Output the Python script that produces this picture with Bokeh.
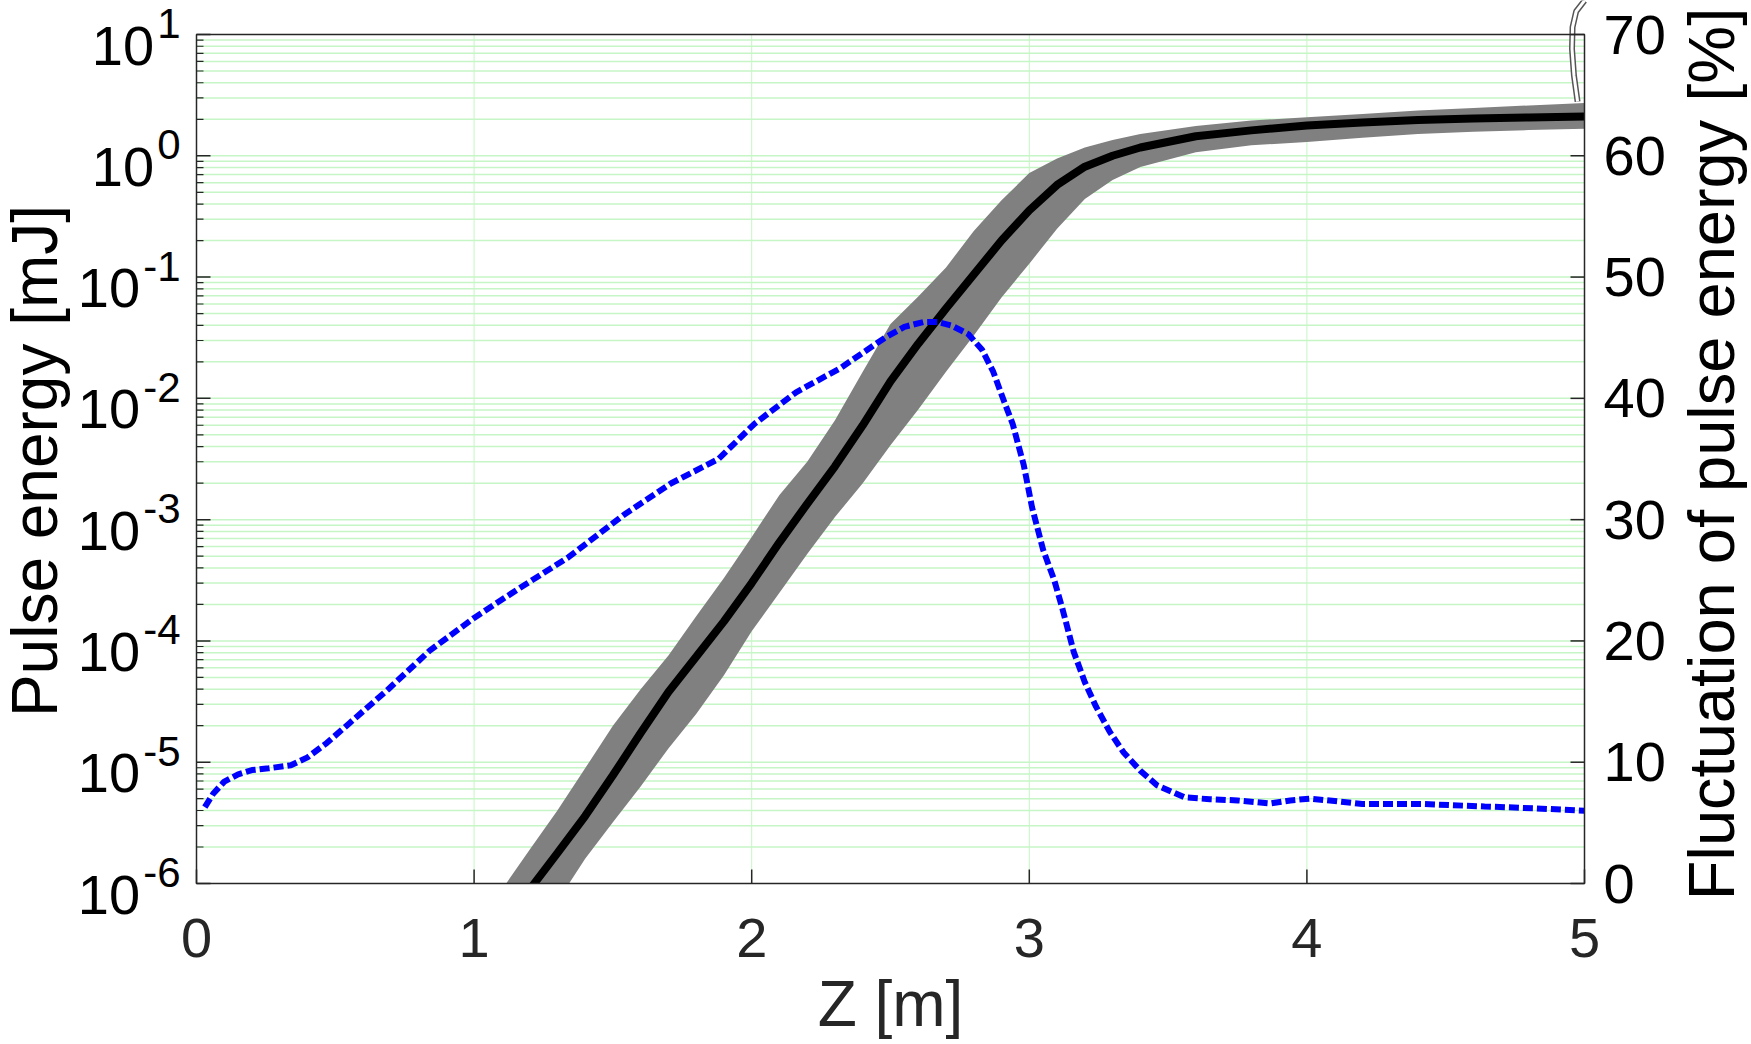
import math
from bokeh.plotting import figure
from bokeh.models import Range1d, LinearScale
from bokeh.core.properties import value
from bokeh.embed import file_html
from bokeh.resources import INLINE

# ---------------- data ----------------
z_band = [1.1, 1.2, 1.3, 1.4, 1.5, 1.6, 1.7, 1.8, 1.9, 2.0, 2.1, 2.2, 2.3, 2.4,
          2.5, 2.6, 2.7, 2.8, 2.9, 3.0, 3.1, 3.2, 3.3, 3.4, 3.6, 3.8, 4.0, 4.2,
          4.4, 4.6, 4.8, 5.0]
energy_mean = [4.5e-7, 8.9e-7, 1.78e-6, 3.6e-6, 7.8e-6, 1.74e-5, 3.8e-5, 7.4e-5,
               1.45e-4, 3.0e-4, 6.5e-4, 1.35e-3, 2.75e-3, 6.0e-3, 0.0138, 0.0282,
               0.055, 0.105, 0.200, 0.355, 0.575, 0.813, 1.0, 1.17, 1.45, 1.62,
               1.78, 1.88, 1.97, 2.03, 2.07, 2.11]
energy_upper = [8.9e-7, 1.9e-6, 4.0e-6, 8.9e-6, 2.0e-5, 4.0e-5, 7.6e-5, 1.6e-4,
                3.3e-4, 7.2e-4, 1.6e-3, 3.0e-3, 6.6e-3, 0.0166, 0.041, 0.069,
                0.12, 0.24, 0.43, 0.72, 0.95, 1.17, 1.35, 1.51, 1.76, 1.95,
                2.08, 2.21, 2.36, 2.48, 2.60, 2.72]
energy_lower = [1.6e-7, 3.2e-7, 7.1e-7, 1.6e-6, 3.2e-6, 6.3e-6, 1.3e-5, 2.5e-5,
                5.2e-5, 1.2e-4, 2.5e-4, 5.2e-4, 1.05e-3, 2.0e-3, 4.1e-3, 8.1e-3,
                0.0166, 0.033, 0.068, 0.129, 0.25, 0.44, 0.63, 0.81, 1.07, 1.22,
                1.30, 1.41, 1.51, 1.58, 1.63, 1.67]
# one stray trace leaving the top of the plot near Z = 5
z_stray = [4.975, 4.962, 4.955, 4.957, 4.970, 5.0]
energy_stray = [2.8, 4.6, 7.6, 11.5, 15.5, 19.0]

z_fluct = [0.03, 0.06, 0.10, 0.15, 0.20, 0.26, 0.34, 0.40, 0.47, 0.55, 0.69, 0.84,
           1.00, 1.16, 1.34, 1.54, 1.71, 1.88, 2.01, 2.16, 2.32, 2.48, 2.55, 2.62,
           2.67, 2.72, 2.78, 2.83, 2.87, 2.91, 2.94, 2.98, 3.01, 3.05, 3.09, 3.12,
           3.16, 3.20, 3.24, 3.29, 3.34, 3.40, 3.46, 3.52, 3.56, 3.65, 3.75, 3.87,
           3.94, 4.01, 4.10, 4.20, 4.42, 4.64, 4.82, 5.00]
fluct = [6.3, 7.4, 8.4, 9.0, 9.35, 9.5, 9.75, 10.4, 11.6, 13.2, 16.0, 19.2,
         21.9, 24.3, 26.9, 30.4, 33.0, 35.0, 37.9, 40.5, 42.5, 45.0, 45.9, 46.3,
         46.3, 46.0, 45.3, 44.0, 42.2, 39.7, 37.9, 34.5, 31.0, 27.5, 25.0, 22.6,
         19.1, 16.6, 14.6, 12.5, 10.8, 9.3, 8.1, 7.5, 7.1, 6.95, 6.85, 6.6,
         6.85, 7.0, 6.8, 6.55, 6.55, 6.35, 6.2, 6.0]

x_ticks = [0, 1, 2, 3, 4, 5]
x_tick_labels = ["0", "1", "2", "3", "4", "5"]
energy_decades = [-6, -5, -4, -3, -2, -1, 0, 1]
fluct_ticks = [0, 10, 20, 30, 40, 50, 60, 70]
fluct_tick_labels = ["0", "10", "20", "30", "40", "50", "60", "70"]
x_title = "Z [m]"
left_title = "Pulse energy [mJ]"
right_title = "Fluctuation of pulse energy [%]"

# ---------------- layout / styling ----------------
W, H = 1751, 1044
FL, FR, FT, FB = 196, 1584, 34, 883          # plot box in page pixels
X0, X1 = 0.0, 5.0
E_LO, E_HI = 1e-6, 1e1
F_LO, F_HI = 0.0, 70.0

FONT = "Liberation Sans"
AX = "#262626"
GRID = "#c6f6c6"
TICK_PX, SUP_PX, TITLE_PX, RTITLE_PX = 56, 42, 64, 65

xpx = (FR - FL) / (X1 - X0)                   # px per metre
dpx = (FB - FT) / (math.log10(E_HI) - math.log10(E_LO))   # px per decade
fpx = (FB - FT) / (F_HI - F_LO)               # px per percent


def dx(px):            # horizontal pixel offset -> data units
    return px / xpx


def ey(e, px_down):     # energy value px_down pixels below 10**e
    return 10 ** (e - px_down / dpx)


p = figure(width=W, height=H, y_axis_type="log",
           x_range=Range1d(X0 - FL / xpx, X1 + (W - FR) / xpx),
           y_range=Range1d(10 ** (math.log10(E_LO) - (H - FB) / dpx),
                           10 ** (math.log10(E_HI) + FT / dpx)),
           x_axis_location=None, y_axis_location=None,
           output_backend="svg", toolbar_location=None, min_border=0)
p.outline_line_color = None
p.grid.visible = False
p.background_fill_color = "white"
p.border_fill_color = "white"
p.extra_y_ranges = {"fluct": Range1d(F_LO - (H - FB) / fpx, F_HI + FT / fpx)}
p.extra_y_scales = {"fluct": LinearScale()}

decade_vals = [10.0 ** e for e in energy_decades]
minor_vals = [m * 10.0 ** e for e in energy_decades[:-1] for m in range(2, 10)]

# grid
hg = decade_vals[1:-1] + minor_vals
p.segment(x0=[X0] * len(hg), x1=[X1] * len(hg), y0=hg, y1=hg,
          line_color=GRID, line_width=1.5)
vg = x_ticks[1:-1]
p.segment(x0=vg, x1=vg, y0=[E_LO] * len(vg), y1=[E_HI] * len(vg),
          line_color=GRID, line_width=1)

# data
p.varea(x=z_band, y1=energy_lower, y2=energy_upper, fill_color="#808080")
p.line(z_band, energy_mean, line_color="black", line_width=8)
p.line(z_fluct, fluct, y_range_name="fluct", line_color="#0000ff",
       line_width=6, line_dash="10 4")
p.line(z_stray, energy_stray, line_color="#555555", line_width=6)
p.line(z_stray, energy_stray, line_color="white", line_width=3)

# mask whatever falls below the plot box
p.quad(left=[p.x_range.start], right=[p.x_range.end],
       bottom=[p.y_range.start], top=[E_LO], fill_color="white", line_color=None)

# plot box
p.quad(left=[X0], right=[X1], bottom=[E_LO], top=[E_HI], fill_color=None,
       line_color=AX, line_width=1.5)

# ticks (inward)
p.segment(x0=[X0] * len(decade_vals), x1=[X0 + dx(14)] * len(decade_vals),
          y0=decade_vals, y1=decade_vals, line_color=AX, line_width=1.5)
p.segment(x0=[X0] * len(minor_vals), x1=[X0 + dx(7)] * len(minor_vals),
          y0=minor_vals, y1=minor_vals, line_color=AX, line_width=1.2)
p.segment(x0=[X1 - dx(14)] * len(fluct_ticks), x1=[X1] * len(fluct_ticks),
          y0=fluct_ticks, y1=fluct_ticks, y_range_name="fluct",
          line_color=AX, line_width=1.5)
p.segment(x0=x_ticks, x1=x_ticks, y0=[E_LO] * len(x_ticks),
          y1=[ey(-6, -14)] * len(x_ticks), line_color=AX, line_width=1.5)

# left tick labels: "10" with a raised exponent
sup_right = X0 - dx(16)
b_x, b_y, b_t, s_x, s_y, s_t = [], [], [], [], [], []
for e in energy_decades:
    s = str(e)
    exp_w = SUP_PX * (0.556 * len(s.lstrip('-')) + (0.333 if e < 0 else 0))
    s_t.append(s)
    s_x.append(sup_right)
    s_y.append(ey(e, -11))
    b_t.append("10")
    b_x.append(sup_right - dx(exp_w + 3))
    b_y.append(ey(e, 11))
txt = dict(text_font=value(FONT), text_baseline="middle")
p.text(x=b_x, y=b_y, text=b_t, text_font_size=value(f"{TICK_PX}px"),
       text_color="black", text_align="right", **txt)
p.text(x=s_x, y=s_y, text=s_t, text_font_size=value(f"{SUP_PX}px"),
       text_color="black", text_align="right", **txt)

# bottom tick labels and title
p.text(x=x_ticks, y=[ey(-6, 54)] * len(x_ticks), text=x_tick_labels,
       text_font_size=value(f"{TICK_PX}px"), text_color=AX,
       text_align="center", **txt)
p.text(x=[(X0 + X1) / 2], y=[ey(-6, 120)], text=[x_title],
       text_font_size=value(f"{TITLE_PX}px"), text_color=AX,
       text_align="center", **txt)

# right tick labels and title
p.text(x=[X1 + dx(19)] * len(fluct_ticks), y=fluct_ticks, text=fluct_tick_labels,
       y_range_name="fluct", text_font_size=value(f"{TICK_PX}px"),
       text_color="black", text_align="left", **txt)
p.text(x=[X1 + dx(127)], y=[(F_LO + F_HI) / 2 + 5 / fpx], text=[right_title],
       y_range_name="fluct", angle=math.pi / 2,
       text_font_size=value(f"{RTITLE_PX}px"), text_color="black",
       text_align="center", **txt)

# left title
p.text(x=[X0 - dx(162)], y=[ey(-2.5, 2)], text=[left_title], angle=math.pi / 2,
       text_font_size=value(f"{TITLE_PX}px"), text_color="black",
       text_align="center", **txt)

open("out.html", "w").write(file_html(p, INLINE))
